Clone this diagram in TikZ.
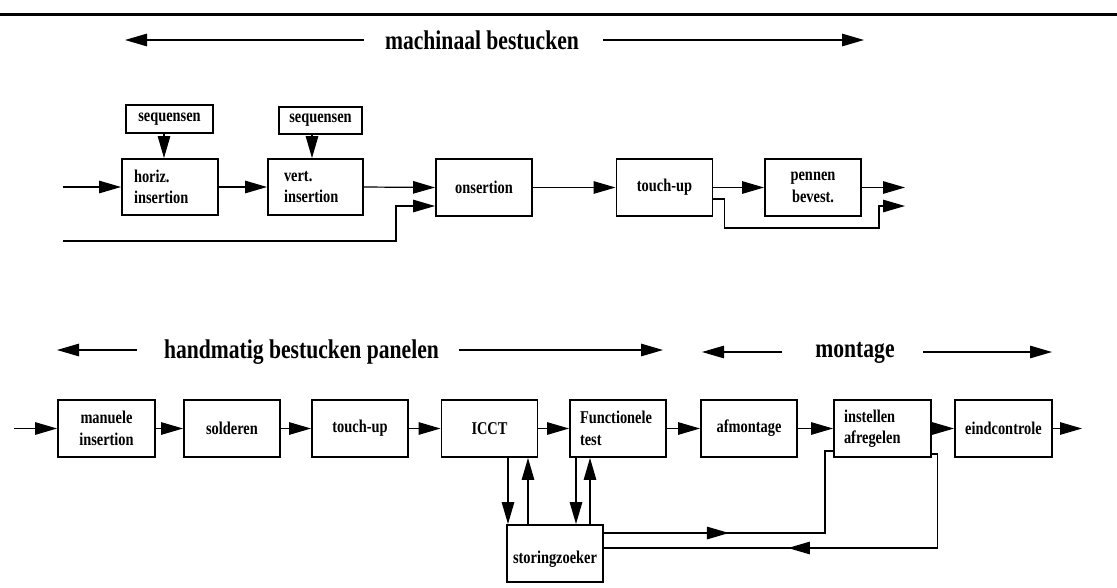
\documentclass[tikz,border=0pt]{standalone}
\usepackage{fontspec}
\setmainfont{Liberation Serif}[FakeStretch=0.8]
\usetikzlibrary{arrows.meta,calc}
\begin{document}
\begin{tikzpicture}[x=1pt,y=-1pt,
  box/.style={draw,line width=1.9pt,minimum width=96pt,minimum height=57pt,
    inner sep=0pt,align=center,font=\fontsize{18}{21.5}\selectfont\bfseries},
  tag/.style={draw,line width=1.9pt,minimum height=28pt,inner sep=0pt,
    font=\fontsize{18}{21.5}\selectfont\bfseries},
  title/.style={inner sep=0pt,font=\fontsize{27}{30}\selectfont\bfseries},
  arr/.style={line width=1.2pt,-{Triangle[length=22pt,width=12.5pt]}},
  wire/.style={line width=1.2pt}]
\useasboundingbox (0,0) rectangle (1117,587);

% header rule
\draw[line width=3pt] (0,14.5) -- (1117,14.5);

% ---------- machine insertion line ----------
\node[title] (t1) at (482,40) {machinaal bestucken};
\coordinate (t1a) at (125,40);
\coordinate (t1b) at (864,40);
\draw[arr] ($(t1.west)+(-21,0)$) -- (t1a);
\draw[arr] ($(t1.east)+(24,0)$) -- (t1b);

\node[tag,minimum width=87pt] (seq1) at (169.5,119) {sequensen};
\node[tag,minimum width=83pt,minimum height=27pt] (seq2) at (320.5,120.5) {sequensen};
\node[box,minimum height=56pt,text width=72pt,align=left] (horiz) at (170,187) {horiz.\\insertion};
\node[box,minimum width=95pt,minimum height=56pt,text width=63pt,align=left] (vert) at (315.5,187) {vert.\\insertion};
\node[box] (ons) at (484,187.5) {onsertion};
\node[box] (tu) at (664.5,187.5) {touch-up};
\node[box] (pen) at (813,187.5) {pennen\\bevest.};

\coordinate (s1) at ($(seq1.south)+(-5.5,0)$);
\coordinate (s2) at ($(seq2.south)+(-8.5,0)$);
\draw[arr] (s1) -- (s1 |- horiz.north);
\draw[arr] (s2) -- (s2 |- vert.north);

\coordinate (inA) at (63,187);
\draw[arr] (inA) -- (horiz.west);
\draw[arr] (horiz.east) -- (vert.west);
\draw[arr] (vert.east) -- (ons.west);
\coordinate (inB) at (63,241);
\draw[arr] (inB) -| ($(ons.west)+(-39,18.5)$) -- ($(ons.west)+(0,18.5)$);
\draw[arr] (ons.east) -- (tu.west);
\draw[arr] (tu.east) -- (pen.west);
\coordinate (outA) at (905,187.5);
\coordinate (outB) at (905,206);
\draw[arr] (pen.east) -- (outA);
\draw[arr] ($(tu.east)+(0,11.5)$) -| ($(tu.east)+(11,40.5)$) -| ($(outB)+(-26,0)$) -- (outB);

% ---------- manual assembly line ----------
\node[title] (t2) at (301.5,352) {handmatig bestucken panelen};
\coordinate (t2a) at (57,350);
\coordinate (t2b) at (663,350);
\draw[arr] ($(t2.west)+(-27,-2)$) -- (t2a);
\draw[arr] ($(t2.east)+(20,-2)$) -- (t2b);

\node[title] (t3) at (855,353) {montage};
\coordinate (t3a) at (702,352);
\coordinate (t3b) at (1052,352);
\draw[arr] ($(t3.west)+(-33,-1)$) -- (t3a);
\draw[arr] ($(t3.east)+(28,-1)$) -- (t3b);

\node[box,minimum width=97pt] (man) at (106.5,428.5) {manuele\\insertion};
\node[box] (sol) at (232,428.5) {solderen};
\node[box] (tub) at (360,428.5) {touch-up};
\node[box] (icct) at (489.5,428.5) {ICCT};
\node[box,text width=76pt,align=left] (fun) at (618,428.5) {Functionele\\test};
\node[box] (afm) at (749,428.5) {afmontage};
\node[box,minimum width=97pt,text width=77pt,align=left] (inst) at (882.5,428.5) {instellen\\afregelen};
\node[box,minimum width=97pt] (eind) at (1003.5,428.5) {eindcontrole};
\node[box] (stor) at (555,553.5) {\raisebox{-6pt}[\height][\depth]{storingzoeker}};

\coordinate (inC) at (14,428.5);
\coordinate (outC) at (1082,428.5);
\draw[arr] (inC) -- (man.west);
\draw[arr] (man.east) -- (sol.west);
\draw[arr] (sol.east) -- (tub.west);
\draw[arr] (tub.east) -- (icct.west);
\draw[arr] (icct.east) -- (fun.west);
\draw[arr] (fun.east) -- (afm.west);
\draw[arr] (afm.east) -- (inst.west);
\draw[arr] (inst.east) -- (eind.west);
\draw[arr] (eind.east) -- (outC);

% fault finding loops
\coordinate (d1) at ($(icct.south)+(18.5,0)$);
\coordinate (u1) at ($(icct.south)+(38.5,0)$);
\coordinate (d2) at ($(fun.south)+(-42,0)$);
\coordinate (u2) at ($(fun.south)+(-28,0)$);
\draw[arr] (d1) -- (d1 |- stor.north);
\draw[arr] (u1 |- stor.north) -- (u1);
\draw[arr] (d2) -- (d2 |- stor.north);
\draw[arr] (u2 |- stor.north) -- (u2);

\coordinate (l1) at ($(stor.east)+(0,-20.5)$);
\draw[wire] (l1) -| ($(inst.west)+(-8,22.5)$) -- ($(inst.west)+(0,22.5)$);
\draw[arr] ($(l1)+(100,0)$) -- ($(l1)+(125,0)$);

\coordinate (r1) at ($(inst.east)+(0,25.5)$);
\coordinate (r2) at ($(stor.east)+(0,-5.5)$);
\draw[wire] (r1) -- ++(5.5,0) |- (r2);
\draw[arr] ($(r2)+(207,0)$) -- ($(r2)+(184,0)$);
\end{tikzpicture}
\end{document}
